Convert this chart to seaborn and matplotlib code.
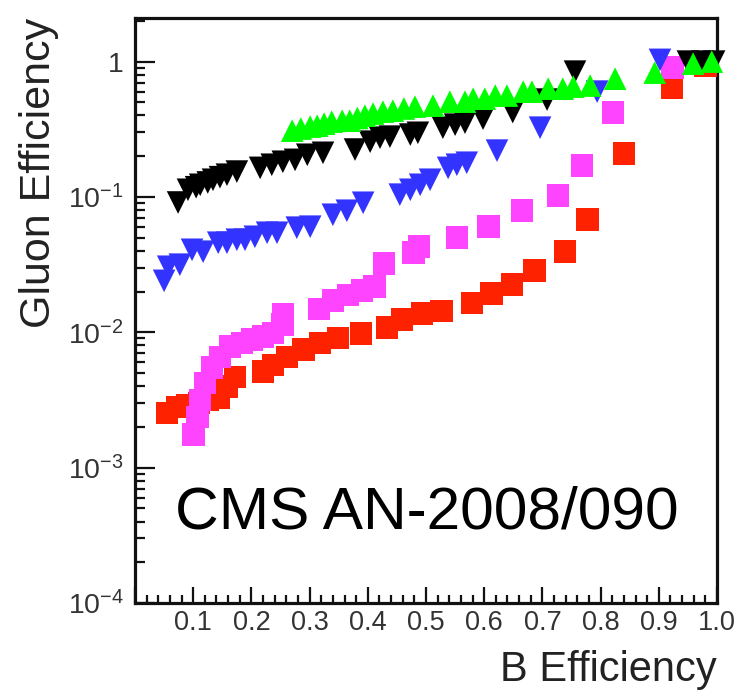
import matplotlib
matplotlib.use("Agg")
import matplotlib.pyplot as plt
import numpy as np
import pandas as pd
import seaborn as sns
from matplotlib.ticker import LogLocator, MultipleLocator, FuncFormatter, NullFormatter

# Gluon mistag efficiency versus b-tag efficiency for five taggers
red_x = [0.055, 0.072, 0.090, 0.110, 0.125, 0.143, 0.158, 0.172, 0.220, 0.237, 0.261, 0.289,
         0.318, 0.349, 0.388, 0.433, 0.459, 0.493, 0.527, 0.579, 0.613, 0.648, 0.686, 0.739,
         0.777, 0.840, 0.923, 0.980]
red_y = [0.00254, 0.00281, 0.0029, 0.0030, 0.0032, 0.00328, 0.00396, 0.00469, 0.00511, 0.00575,
         0.00659, 0.00743, 0.00836, 0.00910, 0.00975, 0.0108, 0.0124, 0.0137, 0.0144, 0.0165,
         0.0193, 0.0225, 0.0285, 0.0394, 0.0679, 0.209, 0.642, 0.93]

magenta_x = [0.100, 0.107, 0.112, 0.120, 0.132, 0.146, 0.163, 0.184, 0.201, 0.220, 0.237, 0.253,
             0.254, 0.316, 0.340, 0.366, 0.390, 0.412, 0.428, 0.478, 0.488, 0.553, 0.607, 0.665,
             0.727, 0.768, 0.821, 0.924]
magenta_y = [0.00175, 0.00237, 0.00317, 0.00423, 0.00547, 0.00659, 0.00782, 0.00836, 0.00881,
             0.00927, 0.00991, 0.0114, 0.0135, 0.0149, 0.0171, 0.0189, 0.0203, 0.0217, 0.0321,
             0.0387, 0.0429, 0.0500, 0.0603, 0.0791, 0.102, 0.170, 0.420, 0.903]

blue_x = [0.050, 0.057, 0.077, 0.098, 0.117, 0.143, 0.158, 0.175, 0.189, 0.206, 0.227, 0.244,
          0.278, 0.301, 0.340, 0.364, 0.392, 0.455, 0.473, 0.490, 0.507, 0.538, 0.553, 0.570,
          0.622, 0.696, 0.794, 0.902]
blue_y = [0.0240, 0.0305, 0.0316, 0.0407, 0.0394, 0.0459, 0.0459, 0.0483, 0.0483, 0.0508,
          0.0544, 0.0544, 0.0593, 0.0603, 0.0739, 0.0791, 0.0906, 0.104, 0.113, 0.123, 0.134,
          0.164, 0.173, 0.179, 0.220, 0.325, 0.600, 1.03]

black_x = [0.074, 0.091, 0.105, 0.112, 0.125, 0.134, 0.146, 0.158, 0.175, 0.215, 0.235, 0.254,
           0.275, 0.296, 0.323, 0.378, 0.404, 0.421, 0.438, 0.473, 0.486, 0.529, 0.550, 0.567,
           0.598, 0.649, 0.708, 0.756, 0.950, 0.975, 0.995]
black_y = [0.091, 0.113, 0.118, 0.123, 0.128, 0.134, 0.140, 0.146, 0.154, 0.164, 0.173, 0.182,
           0.188, 0.205, 0.212, 0.224, 0.256, 0.274, 0.279, 0.289, 0.298, 0.325, 0.342, 0.354,
           0.379, 0.424, 0.524, 0.843, 1.0, 1.0, 1.0]

green_x = [0.270, 0.285, 0.301, 0.313, 0.325, 0.338, 0.356, 0.369, 0.382, 0.395, 0.409, 0.426,
           0.443, 0.462, 0.481, 0.512, 0.541, 0.567, 0.581, 0.601, 0.619, 0.639, 0.667, 0.682,
           0.710, 0.735, 0.753, 0.782, 0.825, 0.893, 0.959, 0.991]
green_y = [0.309, 0.320, 0.331, 0.336, 0.348, 0.360, 0.366, 0.366, 0.383, 0.399, 0.413, 0.427,
           0.434, 0.450, 0.465, 0.473, 0.506, 0.506, 0.532, 0.532, 0.561, 0.561, 0.600, 0.600,
           0.631, 0.631, 0.653, 0.665, 0.748, 0.829, 0.966, 1.0]

series = [
    ("red", red_x, red_y, "s", "#ff2200"),
    ("magenta", magenta_x, magenta_y, "s", "#ff44ff"),
    ("blue", blue_x, blue_y, "v", "#3333ff"),
    ("black", black_x, black_y, "v", "#000000"),
    ("green", green_x, green_y, "^", "#00ff00"),
]

frames = [pd.DataFrame({"x": xs, "y": ys, "tagger": name}) for name, xs, ys, _, _ in series]
df = pd.concat(frames, ignore_index=True)
palette = {name: c for name, _, _, _, c in series}
markers = {name: m for name, _, _, m, _ in series}

sns.set_theme(style="white")
plt.rcParams["font.family"] = ["Liberation Sans", "DejaVu Sans"]
plt.rcParams["mathtext.fontset"] = "custom"
plt.rcParams["mathtext.rm"] = "Liberation Sans"

fig = plt.figure(figsize=(7.35, 6.93), dpi=100)
ax = fig.add_axes([135 / 735, 1 - 603 / 693, (717 - 135) / 735, (603 - 18) / 693])

sns.scatterplot(data=df, x="x", y="y", hue="tagger", style="tagger",
                palette=palette, markers=markers, s=265, linewidth=0,
                legend=False, ax=ax, clip_on=False, zorder=3)

ax.set_yscale("log")
ax.set_xlim(0, 1.0)
ax.set_ylim(1e-4, 2.1)

ax.xaxis.set_major_locator(MultipleLocator(0.1))
ax.xaxis.set_minor_locator(MultipleLocator(0.02))
ax.xaxis.set_major_formatter(FuncFormatter(lambda v, p: "" if v < 0.05 else f"{v:.1f}"))
ax.yaxis.set_major_locator(LogLocator(base=10, numticks=10))
ax.yaxis.set_minor_locator(LogLocator(base=10, subs=np.arange(2, 10), numticks=20))
ax.yaxis.set_minor_formatter(NullFormatter())


def decade(v, p):
    e = int(round(np.log10(v)))
    return "1" if e == 0 else r"$\mathregular{10^{%d}}$" % e


ax.yaxis.set_major_formatter(FuncFormatter(decade))

ax.tick_params(axis="both", which="both", direction="in", bottom=True, left=True,
               top=False, right=False, color="#111111", width=1.6)
ax.tick_params(axis="x", which="major", length=11.5, pad=5, labelsize=19.5, labelcolor="#333333")
ax.tick_params(axis="x", which="minor", length=5.5)
ax.tick_params(axis="y", which="major", length=14.5, pad=8, labelsize=20.5, labelcolor="#333333")
ax.tick_params(axis="y", which="minor", length=7)

for sp in ax.spines.values():
    sp.set_visible(True)
    sp.set_color("#111111")
    sp.set_linewidth(2.3)

ax.set_xlabel("B Efficiency", fontsize=30, color="#222222", ha="right", va="top")
ax.xaxis.set_label_coords(1.0, -0.080)
ax.set_ylabel("Gluon Efficiency", fontsize=31, color="#222222", ha="right", va="bottom")
ax.yaxis.set_label_coords(-0.13, 1.0)

ax.text(0.069, 0.128, "CMS AN-2008/090", transform=ax.transAxes, fontsize=43.5,
        ha="left", va="baseline", color="black")

fig.savefig("out.png", dpi=100)
